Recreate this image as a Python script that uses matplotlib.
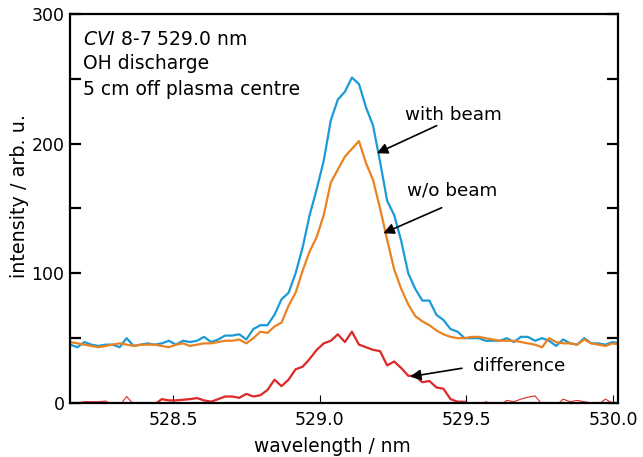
import numpy as np
import matplotlib
matplotlib.use("Agg")
import matplotlib.pyplot as plt

plt.rcParams['font.family'] = ['DejaVu Sans']
plt.rcParams['mathtext.fontset'] = 'custom'
plt.rcParams['mathtext.it'] = 'DejaVu Sans:italic'
plt.rcParams['mathtext.rm'] = 'DejaVu Sans'

# wavelength grid (nm) (~0.024 nm per sample)
wl_start = 528.15
wl_step = 0.024

with_beam = [45, 43, 47, 45, 44, 45, 45, 43, 50, 44,
             45, 46, 45, 46, 48, 45, 48, 47, 48, 51,
             47, 49, 52, 52, 53, 49, 57, 60, 60, 68,
             80, 85, 100, 120, 145, 165, 187, 218, 234, 240,
             251, 246, 228, 214, 186, 156, 145, 125, 100, 88,
             79, 79, 68, 64, 57, 55, 50, 50, 50, 48,
             48, 48, 50, 47, 51, 51, 48, 50, 48, 44,
             49, 46, 45, 50, 46, 46, 45, 47, 46]

without_beam = [47, 46, 45, 44, 43, 44, 45, 46, 45, 44,
                45, 45, 45, 44, 43, 45, 46, 44, 45, 46,
                46, 47, 48, 48, 49, 46, 50, 55, 54, 59,
                62, 75, 85, 102, 117, 128, 145, 170, 180, 190,
                196, 202, 185, 172, 150, 126, 103, 88, 76, 67,
                63, 60, 56, 53, 51, 50, 50, 51, 51, 50,
                49, 48, 48, 48, 47, 46, 45, 43, 50, 47,
                46, 46, 45, 49, 46, 45, 44, 46, 45]

difference = [-2, 0, 1, 1, 1, 1.5, -1, -2, 5, -1,
              -3, -3, -1, 3, 2, 2, 2.5, 3, 3.8, 2,
              1, 3, 5, 5, 4, 7, 5, 6, 10, 18,
              13, 18, 26, 28, 34, 41, 46, 48, 53, 47,
              55, 45, 43, 41, 40, 29, 32, 27, 21, 21,
              16, 17, 12, 11, 3, 1, 1, -1, -2, 1,
              -1, -2, 2, 1, 3, 4.5, 5.5, -1, -3, -2,
              3, 1, 2, 1, 0, -1, 3, 0, -1]

wl = wl_start + wl_step * np.arange(len(with_beam))
diff = np.array(difference, dtype=float)

fig = plt.figure(figsize=(6.43, 4.57), dpi=100)
ax = fig.add_axes([70/643, 54/457, 548/643, 389/457])

ax.plot(wl, with_beam, color='#1b9ad8', lw=1.6)
ax.plot(wl, without_beam, color='#ea8220', lw=1.6)
ax.plot(wl, diff, color='#dd2a2a', lw=0.8)
thick = (wl > 528.43) & (wl < 529.5)
ax.plot(wl[thick], diff[thick], color='#dd2a2a', lw=1.6)

ax.set_xlim(528.149, 530.017)
ax.set_ylim(0, 300)
ax.set_xticks([528.5, 529.0, 529.5, 530.0])
ax.set_xticklabels(['528.5', '529.0', '529.5', '530.0'])
ax.set_yticks([0, 50, 100, 150, 200, 250, 300])
ax.set_yticklabels(['0', '', '100', '', '200', '', '300'])

for s in ax.spines.values():
    s.set_linewidth(1.6)
ax.tick_params(axis='y', which='both', direction='in', length=8, width=1.6,
               labelsize=12.5, left=True, right=True, pad=4)
ax.tick_params(axis='x', direction='in', length=6, width=0.8, labelsize=12.5,
               pad=6)

fig.text(20/643, 1 - 196/457, 'intensity / arb. u.', rotation=90,
         ha='center', va='center', fontsize=13.8)
fig.text(332/643, 1 - 447/457, 'wavelength / nm', ha='center', va='center',
         fontsize=13.4)

fs = 13.5
ax.text(0.024, 0.935, r'$CVI$ 8-7 529.0 nm', transform=ax.transAxes,
        fontsize=fs, va='center')
ax.text(0.024, 0.872, 'OH discharge', transform=ax.transAxes,
        fontsize=fs, va='center')
ax.text(0.024, 0.807, '5 cm off plasma centre', transform=ax.transAxes,
        fontsize=fs, va='center')

arrow = dict(arrowstyle='-|>', color='black', lw=1.2, mutation_scale=16,
             shrinkA=0, shrinkB=0)
ax.annotate('', xy=(529.195, 192.6), xytext=(529.399, 213.9), arrowprops=arrow)
ax.text(529.455, 222.1, 'with beam', ha='center', va='center', fontsize=13.2)
ax.annotate('', xy=(529.217, 130.9), xytext=(529.416, 150.6), arrowprops=arrow)
ax.text(529.451, 163.5, 'w/o beam', ha='center', va='center', fontsize=13.2)
ax.annotate('', xy=(529.308, 20.3), xytext=(529.485, 26.8), arrowprops=arrow)
ax.text(529.680, 28.8, 'difference', ha='center', va='center', fontsize=13.2)

fig.savefig('out.png', dpi=100)
